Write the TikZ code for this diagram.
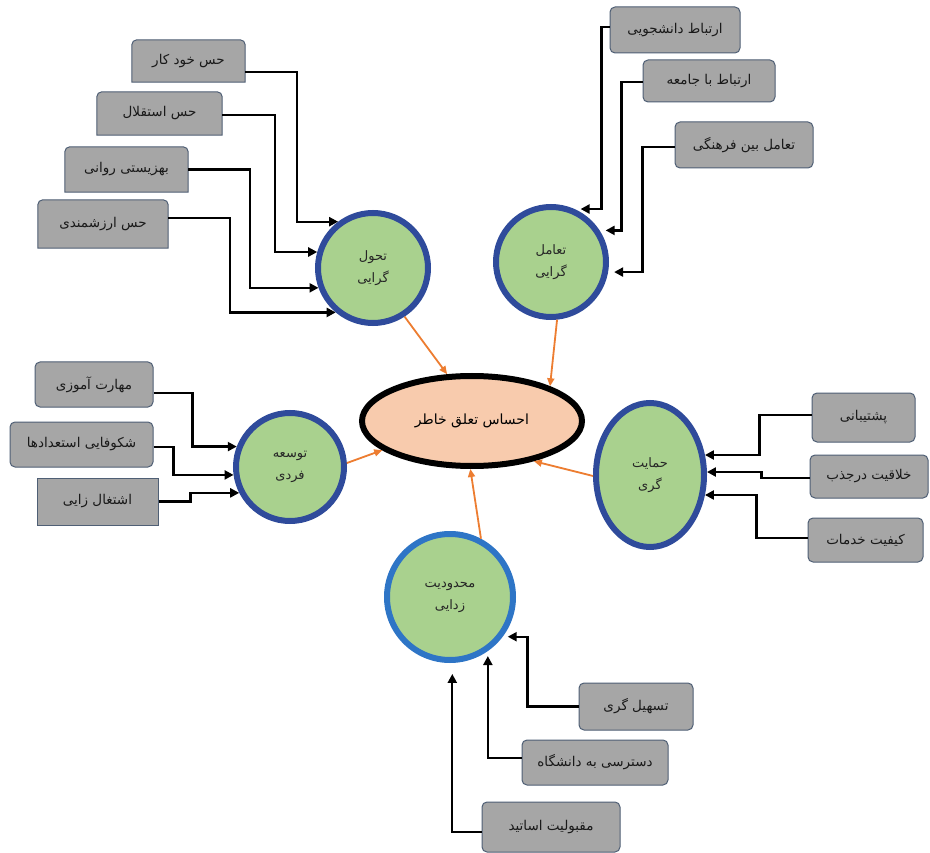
\documentclass[tikz,border=0pt]{standalone}
\usepackage{fontspec}
\newfontfamily\fa[Script=Arabic]{DejaVu Sans}
\TeXXeTstate=1
\usetikzlibrary{shapes.geometric,arrows.meta,backgrounds}
\definecolor{boxgray}{HTML}{A6A6A6}
\definecolor{boxedge}{HTML}{4F5F75}
\definecolor{cgreen}{HTML}{A9D18E}
\definecolor{cblue}{HTML}{2F4B9B}
\definecolor{cblueL}{HTML}{2E75C6}
\definecolor{peach}{HTML}{F8CBAD}
\definecolor{orangeL}{HTML}{ED7D31}
\begin{document}
\begin{tikzpicture}[x=1pt,y=-1pt,
  dims/.style 2 args={minimum width=#1pt,minimum height=#2pt},
  txt/.style={font=\fa\fontsize{13.5}{16}\selectfont, text=black!90, inner sep=0pt},
  rbox/.style={txt, draw=boxedge, fill=boxgray, line width=1pt, rounded corners=5pt},
  sbox/.style={txt, draw=boxedge, fill=boxgray, line width=1pt},
  tbox/.style={txt},
  boxline/.style={draw=boxedge, fill=boxgray, line width=1pt},
  circ/.style={circle, draw=cblue, line width=6pt, fill=cgreen, inner sep=0pt,
    minimum size=#1pt, align=center, font=\fa\fontsize{13}{22}\selectfont, text=black!85},
  ell/.style={ellipse, draw=cblue, line width=6pt, fill=cgreen, inner sep=0pt,
    align=center, font=\fa\fontsize{13}{22}\selectfont, text=black!85},
  blk/.style={draw=black, line width=2.3pt, -{Triangle[length=9pt,width=9pt]}},
  org/.style={draw=orangeL, line width=1.8pt, -{Triangle[length=8pt,width=7pt]}}
]
\useasboundingbox (0,0) rectangle (930,853);

% central ellipse
\node[ellipse, draw=black, line width=6pt, fill=peach, minimum width=220pt, minimum height=90pt,
  inner sep=0pt, font=\fa\fontsize{14}{16}\selectfont] (E) at (472,421) {\beginR احساس تعلق خاطر\endR};

% category circles
\node[circ=110] (c1) at (373,268) {\beginR تحول\endR\\\beginR گرایی\endR};
\node[circ=110] (c2) at (551,262) {\beginR تعامل\endR\\\beginR گرایی\endR};
\node[circ=108] (c3) at (290,467) {\beginR توسعه\endR\\\beginR فردی\endR};
\node[ell, minimum width=108pt, minimum height=144pt] (c4) at (650,475) {\beginR حمایت\endR\\\beginR گری\endR};
\node[circ=126, draw=cblueL] (c5) at (450,597) {\beginR محدودیت\endR\\\beginR زدایی\endR};

% top-left boxes (rounded top only)
\node[tbox, dims={113}{42}] (b1) at (188.5,61) {\beginR حس خود کار\endR};
\node[tbox, dims={125}{43}] (b2) at (159.5,113.5) {\beginR حس استقلال\endR};
\node[tbox, dims={123}{45}] (b3) at (126.5,169.5) {\beginR بهزیستی روانی\endR};
\node[tbox, dims={130}{48}] (b4) at (103,224) {\beginR حس ارزشمندی\endR};

% top-right boxes
\node[rbox, dims={130}{46}] (b5) at (675,30) {\beginR ارتباط دانشجویی\endR};
\node[rbox, dims={132}{42}] (b6) at (709,81) {\beginR ارتباط با جامعه\endR};
\node[rbox, dims={138}{46}] (b7) at (744,145) {\beginR تعامل بین فرهنگی\endR};

% left boxes
\node[rbox, dims={118}{45}] (b8) at (94,384.5) {\beginR مهارت آموزی\endR};
\node[rbox, dims={143}{45}] (b9) at (81.5,444.5) {\beginR شکوفایی استعدادها\endR};
\node[sbox, dims={121}{47}] (b10) at (97.5,501.5) {\beginR اشتغال زایی\endR};

% right boxes
\node[rbox, dims={103}{49}] (b11) at (863.5,417.5) {\beginR پشتیبانی\endR};
\node[rbox, dims={118}{43}] (b12) at (869,476.5) {\beginR خلاقیت درجذب\endR};
\node[rbox, dims={115}{44}] (b13) at (865.5,540) {\beginR کیفیت خدمات\endR};

% bottom boxes
\node[rbox, dims={114}{47}] (b14) at (636,706.5) {\beginR تسهیل گری\endR};
\node[rbox, dims={146}{45}] (b15) at (595,762.5) {\beginR دسترسی به دانشگاه\endR};
\node[rbox, dims={138}{50}] (b16) at (551,827) {\beginR مقبولیت اساتید\endR};

\begin{scope}[on background layer]
  \fill[white] (0,0) rectangle (930,853);
  \foreach \n in {b1,b2,b3,b4}{
    \path[boxline] (\n.south west) -- ([yshift=-5pt]\n.north west)
      arc[start angle=180,end angle=90,radius=5pt] -- ([xshift=-5pt]\n.north east)
      arc[start angle=90,end angle=0,radius=5pt] -- (\n.south east) -- cycle;
  }
\end{scope}

% connectors to c1
\draw[blk] ([yshift=-11pt]b1.east) -- ++(52,0) |- (c1.127.5);
\draw[blk] ([yshift=-1.5pt]b2.east) -- ++(53,0) |- (c1.164);
\draw[blk] (b3.east) -- ++(62,0) |- (c1.200.2);
\draw[blk] ([yshift=6pt]b4.east) -- ++(62,0) |- (c1.230.9);

% connectors to c2
\draw[blk, shorten >=6pt] ([yshift=3pt]b5.west) -- ++(-8,0) |- (c2.66);
\draw[blk, shorten >=6pt] ([yshift=-1pt]b6.west) -- ++(-21,0) |- (c2.33.5);
\draw[blk, shorten >=6pt] ([yshift=-2pt]b7.west) -- ++(-32,0) |- (c2.-10.9);

% connectors to c3
\draw[blk] ([yshift=-8.5pt]b8.east) -- ++(39,0) |- (c3.159.5);
\draw[blk] ([yshift=-2.5pt]b9.east) -- ++(20,0) |- (c3.188.1);
\draw[blk] (b10.east) -- ++(32,0) |- (c3.207.1);

% connectors to c4
\draw[blk] ([yshift=2.5pt]b11.west) -- ++(-52,0) |- (c4.20);
\draw[blk] ([yshift=-1.5pt]b12.west) -- ++(-48,0) |- (c4.3);
\draw[blk] ([yshift=2pt]b13.west) -- ++(-51,0) |- (c4.-20);

% connectors to c5
\draw[blk, shorten >=5pt] (b14.west) -- ++(-51,0) |- (c5.-37.3);
\draw[blk, shorten >=5pt] ([yshift=4.5pt]b15.west) -| (c5.-55.9);
\draw[blk, shorten >=11pt] ([yshift=-5pt]b16.west) -| (c5.-88.3);

% orange connectors to the centre
\draw[org] (c1.-57.4) -- (E.118.9);
\draw[org] (c2.-84) -- (E.24.7);
\draw[org] (c3.4) -- (E.198.4);
\draw[org] (c4.181) -- (E.-33);
\draw[org] (c5.62) -- (E.-92);
\end{tikzpicture}
\end{document}
